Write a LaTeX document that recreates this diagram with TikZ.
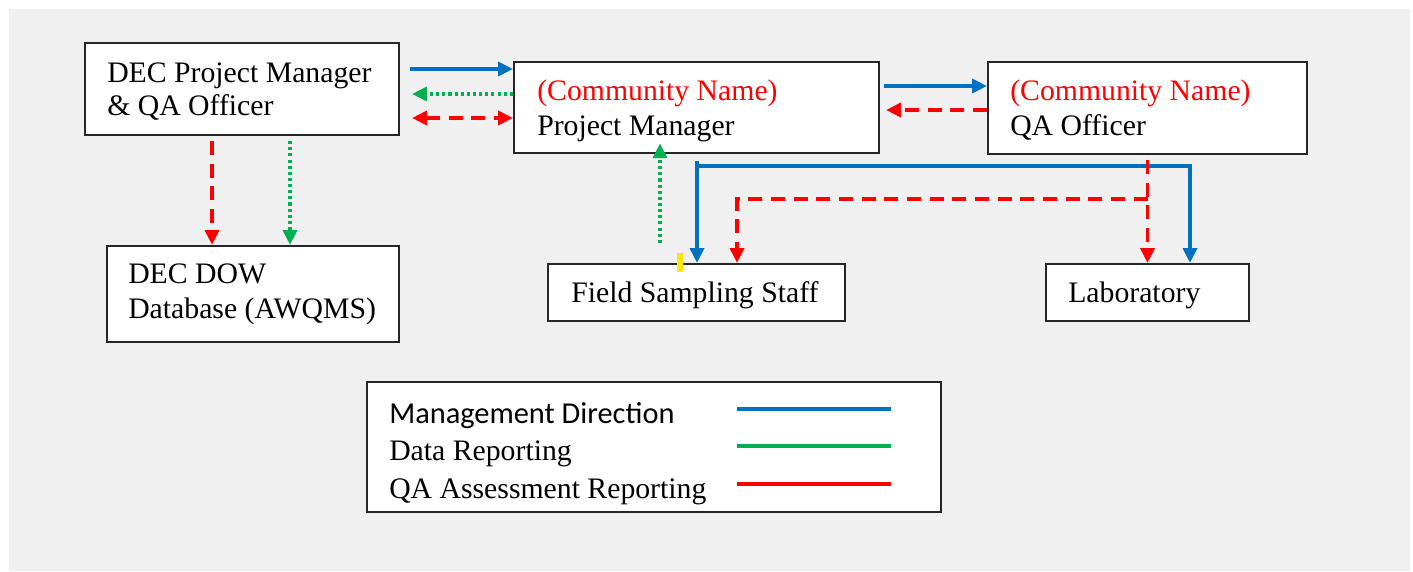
\documentclass[tikz,border=0pt]{standalone}
\usepackage{fontspec}
\setmainfont{Liberation Serif}
\newfontfamily\calib{Carlito}
\usetikzlibrary{arrows.meta}
\definecolor{mblue}{HTML}{0070C0}
\definecolor{dgreen}{HTML}{00B050}
\definecolor{qred}{HTML}{FF0000}
\definecolor{bgc}{HTML}{F0F0F0}
\begin{document}
\begin{tikzpicture}[x=0.75pt,y=-0.75pt,
 box/.style={draw=black!85,line width=1.7pt,fill=white,inner sep=0pt},
 txt/.style={anchor=base west,inner sep=0pt,font=\fontsize{22.3}{26}\selectfont},
 redtxt/.style={txt,text=qred},
 legs/.style={anchor=base west,inner sep=0pt,font=\calib\fontsize{22.8}{26}\selectfont},
 tip/.style={-{Triangle[length=11pt,width=10.5pt]}},
 tips/.style={{Triangle[length=11pt,width=10.5pt]}-{Triangle[length=11pt,width=10.5pt]}},
 mgmt/.style={draw=mblue,line width=2.5pt},
 data/.style={draw=dgreen,line width=2.5pt,dash pattern=on 2.3pt off 2.3pt},
 qa/.style={draw=qred,line width=2.5pt,dash pattern=on 10.5pt off 6.5pt},
 legline/.style={line width=2.6pt}]
\useasboundingbox (0,0) rectangle (1413,571);
\fill[bgc] (9,9) rectangle (1410,571);

% boxes
\node[box,minimum width=235.5pt,minimum height=69pt] (A) at (242,89) {};
\node[box,minimum width=219pt,minimum height=72pt] (B) at (253,294) {};
\node[box,minimum width=273.75pt,minimum height=68.25pt] (C) at (696.5,107.5) {};
\node[box,minimum width=239.25pt,minimum height=69pt] (Q) at (1147.5,108) {};
\node[box,minimum width=222.75pt,minimum height=42.75pt] (F) at (696.5,292.5) {};
\node[box,minimum width=152.25pt,minimum height=42.75pt] (L) at (1147.5,292.5) {};
\node[box,minimum width=430.5pt,minimum height=97.5pt] (G) at (654,447) {};

% texts
\node[txt] (a1) at (107,82) {DEC Project Manager};
\node[txt] (a2) at (107,115) {\& QA Officer};
\node[txt] (b1) at (128,283) {DEC DOW};
\node[txt] (b2) at (128,318) {Database (AWQMS)};
\node[redtxt] (c1) at (537,100) {(Community Name)};
\node[txt] (c2) at (537,135) {Project Manager};
\node[redtxt] (q1) at (1010,100) {(Community Name)};
\node[txt] (q2) at (1010,135) {QA Officer};
\node[txt] (f1) at (571,302) {Field Sampling Staff};
\node[txt] (l1) at (1068,302) {Laboratory};
\node[legs] (g1) at (389,423) {Management Direction};
\node[txt] (g2) at (389,460) {Data Reporting};
\node[txt] (g3) at (389,498) {QA Assessment Reporting};

% legend lines
\draw[mgmt,legline] (737,409) -- (891,409);
\draw[draw=dgreen,legline] (737,446) -- (891,446);
\draw[draw=qred,legline] (737,484) -- (891,484);

% connectors between A and C
\draw[mgmt,tip,shorten <=7.5pt] (A.east |- 0,69) -- (C.west |- 0,69);
\draw[data,tip,shorten >=9pt] (C.west |- 0,94) -- (A.east |- 0,94);
\draw[qa,tips,shorten <=9pt] (A.east |- 0,118) -- (C.west |- 0,118);

% A to B
\draw[qa,tip,shorten <=3.75pt] (A.south -| 212,0) -- (B.north -| 212,0);
\draw[data,tip,shorten <=3.75pt] (A.south -| 290,0) -- (B.north -| 290,0);

% C and Q
\draw[mgmt,tip,shorten <=3pt] (C.east |- 0,86) -- (Q.west |- 0,86);
\draw[qa,tip,shorten >=4.5pt] (Q.west |- 0,110) -- (C.east |- 0,110);

% F to C (data)
\draw[data,tip,shorten <=15pt,shorten >=-8pt] (F.north -| 660,0) -- (C.south -| 660,0);

% management from C
\coordinate (bj) at (697,166);
\draw[mgmt,tip,shorten <=5pt] (C.south -| 697,0) -- (F.north -| 697,0);
\draw[mgmt,tip] (bj) -- (bj -| 1190,0) -- (L.north -| 1190,0);

% QA from Q
\coordinate (rj) at (1147.5,199);
\draw[qa,tip,shorten <=3.75pt] (Q.south) -- (L.north);
\draw[qa,tip] (rj) -- (rj -| 737,0) -- (F.north -| 737,0);

% yellow mark
\fill[yellow!90!orange] (677,253) rectangle (683,272);
\end{tikzpicture}
\end{document}
